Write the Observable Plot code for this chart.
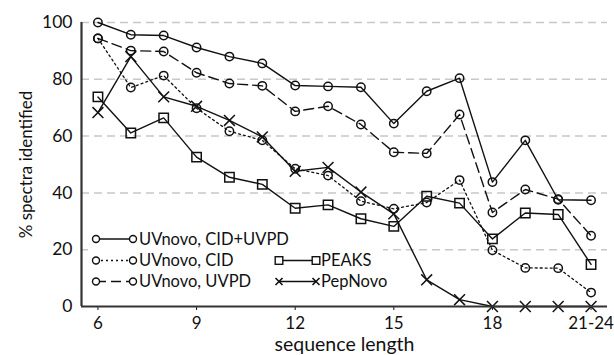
<!DOCTYPE html>
<html>
<head>
<meta charset="utf-8">
<script src="https://cdn.jsdelivr.net/npm/d3@7"></script>
<script src="https://cdn.jsdelivr.net/npm/@observablehq/plot@0.6"></script>
<style>
  html, body { margin: 0; padding: 0; background: #fff; }
  #chart { position: relative; width: 614px; height: 355px; }
</style>
</head>
<body>
<div id="chart"></div>
<script>
// x positions (sequence length); 21 stands for "21-24"
const lengths = [6, 7, 8, 9, 10, 11, 12, 13, 14, 15, 16, 17, 18, 19, 20, 21];
const xTicks = [6, 9, 12, 15, 18, 21];
const xTickLabels = ["6", "9", "12", "15", "18", "21-24"];
const yTicks = [0, 20, 40, 60, 80, 100];

const seriesNames = ["UVnovo, CID+UVPD", "UVnovo, CID", "UVnovo, UVPD", "PEAKS", "PepNovo"];
const cidUvpd = [100, 95.7, 95.4, 91.2, 88.0, 85.6, 77.8, 77.5, 77.2, 64.4, 75.8, 80.4, 43.8, 58.5, 37.6, 37.4];
const cid     = [94.4, 77.1, 81.3, 69.8, 61.7, 58.5, 48.5, 46.1, 37.1, 34.4, 36.6, 44.5, 19.8, 13.6, 13.5, 4.9];
const uvpd    = [94.4, 90.1, 89.8, 82.3, 78.5, 77.7, 68.7, 70.5, 64.1, 54.3, 53.9, 67.6, 33.1, 41.2, 37.8, 24.9];
const peaks   = [73.8, 61.1, 66.4, 52.6, 45.5, 43.0, 34.6, 35.8, 30.9, 28.2, 38.8, 36.4, 23.8, 32.9, 32.4, 14.8];
const pepnovo = [68.3, 88.0, 73.8, 70.5, 65.5, 59.7, 47.6, 49.0, 40.3, 32.6, 9.4, 2.4, 0, 0, 0, 0];

const toRows = (vals, name) => vals.map((v, i) => ({x: lengths[i], y: v, s: name}));
const rCidUvpd = toRows(cidUvpd, seriesNames[0]);
const rCid = toRows(cid, seriesNames[1]);
const rUvpd = toRows(uvpd, seriesNames[2]);
const rPeaks = toRows(peaks, seriesNames[3]);
const rPep = toRows(pepnovo, seriesNames[4]);

const ink = "#111";
const font = "Lato, 'Open Sans', sans-serif";

const plot = Plot.plot({
  width: 614,
  height: 355,
  marginLeft: 81,
  marginRight: 7,
  marginTop: 22,
  marginBottom: 49,
  style: {fontFamily: font, fontSize: "16px", background: "#fff", color: ink},
  x: {domain: [5.5, 21.5]},
  y: {domain: [0, 100]},
  marks: [
    Plot.ruleY(yTicks.filter(d => d > 0), {stroke: "#c8c8c8", strokeWidth: 1.5, strokeDasharray: "8,5"}),
    Plot.axisY({ticks: yTicks, tickSize: 0, tickPadding: 9, label: "% spectra identified",
      labelAnchor: "center", labelArrow: "none", labelOffset: 62, tickFormat: d => d}),
    Plot.axisX({ticks: xTicks, tickSize: 4, tickPadding: 6,
      tickFormat: d => xTickLabels[xTicks.indexOf(d)], label: "sequence length",
      labelAnchor: "center", labelArrow: "none", labelOffset: 44}),
    Plot.line(rCidUvpd, {x: "x", y: "y", stroke: ink, strokeWidth: 1.4}),
    Plot.line(rCid, {x: "x", y: "y", stroke: ink, strokeWidth: 1.3, strokeDasharray: "2,3"}),
    Plot.line(rUvpd, {x: "x", y: "y", stroke: ink, strokeWidth: 1.4, strokeDasharray: "10,5"}),
    Plot.line(rPeaks, {x: "x", y: "y", stroke: ink, strokeWidth: 1.4}),
    Plot.line(rPep, {x: "x", y: "y", stroke: ink, strokeWidth: 1.4}),
    Plot.dot(rCidUvpd, {x: "x", y: "y", r: 4.2, stroke: ink, strokeWidth: 1.5, fill: "none"}),
    Plot.dot(rCid, {x: "x", y: "y", r: 4.2, stroke: ink, strokeWidth: 1.5, fill: "none"}),
    Plot.dot(rUvpd, {x: "x", y: "y", r: 4.2, stroke: ink, strokeWidth: 1.5, fill: "none"}),
    Plot.dot(rPeaks, {x: "x", y: "y", r: 5.3, symbol: "square", stroke: ink, strokeWidth: 1.5, fill: "none"}),
    Plot.dot(rPep, {x: "x", y: "y", r: 5, symbol: "times", stroke: ink, strokeWidth: 1.5}),
    Plot.ruleX([5.5], {stroke: "#333", strokeWidth: 2.2}),
    Plot.ruleY([0], {stroke: "#333", strokeWidth: 2.2})
  ]
});

document.getElementById("chart").appendChild(plot);

const svg = d3.select(plot);
// axis text sizes to match the reference
svg.selectAll('g[aria-label="x-axis tick label"]').attr("font-size", 17);
svg.selectAll('g[aria-label="x-axis tick label"] text').style("font-size", "17px");
svg.selectAll('g[aria-label="y-axis tick label"]').attr("font-size", 17.5);
svg.selectAll('g[aria-label="y-axis tick label"] text').style("font-size", "17.5px");
svg.selectAll('g[aria-label="x-axis label"] text').style("font-size", "19.5px");
svg.selectAll('g[aria-label="y-axis label"] text').style("font-size", "17px");

// Legend (drawn inside the plot SVG, white box over gridlines)
const lg = svg.append("g").attr("font-family", font).attr("fill", ink).attr("text-anchor", "start");
lg.append("rect").attr("x", 88).attr("y", 229).attr("width", 295).attr("height", 63).attr("fill", "#fff");
const legendItems = [
  {name: seriesNames[0], col: 0, row: 0, sym: "circle", dash: null},
  {name: seriesNames[1], col: 0, row: 1, sym: "circle", dash: "2,3"},
  {name: seriesNames[2], col: 0, row: 2, sym: "circle", dash: "10,5"},
  {name: seriesNames[3], col: 1, row: 1, sym: "square", dash: null},
  {name: seriesNames[4], col: 1, row: 2, sym: "times", dash: null}
];
const colX = [[96, 133, 139], [279, 316, 321]];
const rowY = [239, 260.5, 281.5];
for (const it of legendItems) {
  const [x1, x2, tx] = colX[it.col];
  const y = rowY[it.row];
  const g = lg.append("g");
  g.append("line").attr("x1", x1).attr("x2", x2).attr("y1", y).attr("y2", y)
    .attr("stroke", ink).attr("stroke-width", 1.4).attr("stroke-dasharray", it.dash);
  for (const x of [x1, x2]) {
    if (it.sym === "circle") {
      g.append("circle").attr("cx", x).attr("cy", y).attr("r", 3.5).attr("fill", "#fff").attr("stroke", ink).attr("stroke-width", 1.4);
    } else if (it.sym === "square") {
      g.append("rect").attr("x", x - 3.8).attr("y", y - 3.8).attr("width", 7.6).attr("height", 7.6).attr("fill", "#fff").attr("stroke", ink).attr("stroke-width", 1.4);
    } else {
      g.append("path").attr("d", `M${x-3.5},${y-3.5}L${x+3.5},${y+3.5}M${x-3.5},${y+3.5}L${x+3.5},${y-3.5}`).attr("stroke", ink).attr("stroke-width", 1.6);
    }
  }
  g.append("text").attr("x", tx).attr("y", y).attr("dy", "0.35em").attr("text-anchor", "start")
    .style("font-size", "16.5px").text(it.name);
}
</script>
</body>
</html>
